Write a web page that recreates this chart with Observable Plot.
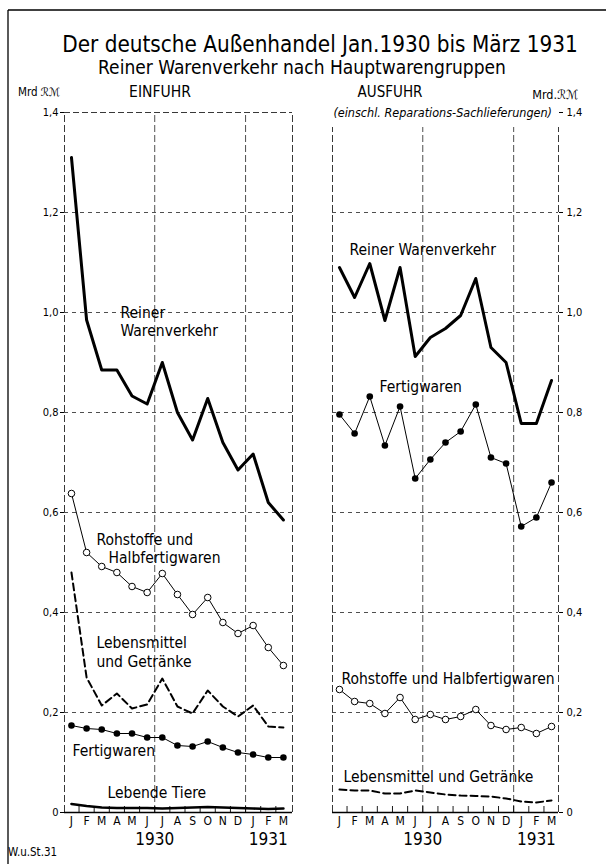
<!DOCTYPE html>
<html><head><meta charset="utf-8">
<script src="https://cdn.jsdelivr.net/npm/d3@7"></script>
<script src="https://cdn.jsdelivr.net/npm/@observablehq/plot@0.6"></script>
<style>
html,body{margin:0;padding:0;background:#fff;}
#wrap{position:relative;width:606px;height:864px;overflow:hidden;background:#fff;}
#wrap > *{position:absolute;}
</style>
</head><body><div id="wrap"></div>
<script>
// ---- data ----
const months = ["J","F","M","A","M","J","J","A","S","O","N","D","J","F","M"];
const monthYears = [1930,1930,1930,1930,1930,1930,1930,1930,1930,1930,1930,1930,1931,1931,1931];
const yTicks = [0, 0.2, 0.4, 0.6, 0.8, 1.0, 1.2, 1.4];

// Einfuhr (imports), Mrd RM
const einReiner = [1.31, 0.985, 0.885, 0.885, 0.833, 0.817, 0.90, 0.80, 0.745, 0.828, 0.74, 0.685, 0.717, 0.62, 0.585];
const einRoh    = [0.638, 0.52, 0.492, 0.48, 0.452, 0.44, 0.478, 0.436, 0.396, 0.43, 0.38, 0.358, 0.374, 0.33, 0.294];
const einLeb    = [0.48, 0.27, 0.214, 0.238, 0.208, 0.216, 0.268, 0.212, 0.198, 0.244, 0.212, 0.192, 0.214, 0.172, 0.17];
const einFert   = [0.174, 0.168, 0.166, 0.158, 0.158, 0.15, 0.15, 0.134, 0.132, 0.142, 0.13, 0.12, 0.116, 0.11, 0.11];
const einTiere  = [0.017, 0.013, 0.01, 0.009, 0.009, 0.009, 0.008, 0.009, 0.01, 0.011, 0.01, 0.009, 0.008, 0.007, 0.008];

// Ausfuhr (exports), Mrd RM
const ausReiner = [1.09, 1.03, 1.098, 0.984, 1.09, 0.912, 0.95, 0.968, 0.994, 1.068, 0.93, 0.90, 0.778, 0.778, 0.864];
const ausFert   = [0.796, 0.758, 0.832, 0.734, 0.812, 0.668, 0.706, 0.74, 0.762, 0.816, 0.71, 0.698, 0.572, 0.59, 0.66];
const ausRoh    = [0.246, 0.222, 0.218, 0.198, 0.23, 0.186, 0.196, 0.186, 0.192, 0.206, 0.174, 0.166, 0.17, 0.158, 0.172];
const ausLeb    = [0.046, 0.044, 0.044, 0.038, 0.038, 0.044, 0.04, 0.036, 0.034, 0.033, 0.032, 0.028, 0.022, 0.02, 0.024];

// line labels: [text, month index, value]
const einLabels = [
  ["Reiner", 3.24, 0.998], ["Warenverkehr", 3.24, 0.962],
  ["Rohstoffe und", 1.65, 0.544], ["Halbfertigwaren", 2.45, 0.508],
  ["Lebensmittel", 1.65, 0.338], ["und Getränke", 1.65, 0.300],
  ["Fertigwaren", 0.07, 0.122],
  ["Lebende Tiere", 2.38, 0.038]
];
const ausLabels = [
  ["Reiner Warenverkehr", 0.66, 1.124],
  ["Fertigwaren", 2.64, 0.85],
  ["Rohstoffe und Halbfertigwaren", 0.13, 0.266],
  ["Lebensmittel und Getränke", 0.26, 0.07]
];

// ---- helpers ----
const FONT = '"DejaVu Sans Condensed","Liberation Sans Narrow","DejaVu Sans",sans-serif';
const ser = arr => arr.map((v, i) => ({i, v}));
const fmt = d => d === 0 ? "0" : d.toFixed(1).replace(".", ",");
const monthIdx = months.map((m, i) => ({i, m}));
const boundaries = d3.range(months.length - 1).map(i => i + 0.5);
const years = d3.groups(monthIdx.map(d => ({...d, y: monthYears[d.i]})), d => d.y)
  .map(([y, g]) => ({y, x: d3.mean(g, d => d.i)}));
const yearStart = monthYears.findIndex(y => y === 1931);
const vGrid = [(yearStart) / 2 - 0.5, yearStart - 0.5];
const grid = "#222";

function panel(o) {
  const marks = [
    Plot.ruleY(yTicks.filter(d => d > 0 && d < 1.4), {y: d => d, stroke: grid, strokeWidth: 0.8, strokeDasharray: "4,4"}),
    Plot.ruleX(vGrid, {x: d => d, y1: 0, y2: o.top, stroke: grid, strokeWidth: 0.8, strokeDasharray: "7,3"}),
    Plot.ruleX(o.xDomain, {x: d => d, y1: 0, y2: o.top, stroke: grid, strokeWidth: 0.9, strokeDasharray: "7,3"}),
    Plot.ruleY([0], {stroke: "#000", strokeWidth: 1.6}),
    Plot.ruleX(boundaries, {x: d => d, y1: 0, y2: 0.012, stroke: "#000", strokeWidth: 0.9}),
    Plot.text(monthIdx, {x: "i", y: 0, text: "m", dy: 9, fontSize: 12, lineAnchor: "middle"}),
    Plot.text(years, {x: "x", y: 0, text: d => String(d.y), dy: 27, fontSize: 17, lineAnchor: "middle"}),
    ...o.marks,
    Plot.text(o.labels, {x: d => d[1], y: d => d[2], text: d => d[0], textAnchor: "start", fontSize: 15.5, lineAnchor: "middle"})
  ];
  if (o.topLine) marks.unshift(Plot.ruleY([1.4], {stroke: grid, strokeWidth: 0.9, strokeDasharray: "6,3"}));
  return Plot.plot({
    width: o.width, height: 864,
    marginLeft: o.ml, marginRight: o.mr, marginTop: 112, marginBottom: 52,
    x: {domain: o.xDomain, axis: null},
    y: {domain: [0, 1.4], ticks: yTicks, tickFormat: fmt, tickSize: 4, tickPadding: o.pad, label: null, axis: o.axis},
    style: {fontFamily: FONT, fontSize: "11px", background: "transparent", overflow: "visible", color: "#000"},
    marks
  });
}

const left = panel({
  width: 300, ml: 64, mr: 8, xDomain: [-0.46, 14.6], axis: "left", pad: 2, top: 1.4, topLine: true,
  labels: einLabels,
  marks: [
    Plot.line(ser(einTiere), {x: "i", y: "v", strokeWidth: 2.6}),
    Plot.line(ser(einFert), {x: "i", y: "v", strokeWidth: 1}),
    Plot.dot(ser(einFert), {x: "i", y: "v", r: 3.3, fill: "#000"}),
    Plot.line(ser(einLeb), {x: "i", y: "v", strokeWidth: 2, strokeDasharray: "7,4"}),
    Plot.line(ser(einRoh), {x: "i", y: "v", strokeWidth: 1}),
    Plot.dot(ser(einRoh), {x: "i", y: "v", r: 3.3, fill: "#fff", stroke: "#000", strokeWidth: 1}),
    Plot.line(ser(einReiner), {x: "i", y: "v", strokeWidth: 3})
  ]
});
left.style.left = "0px"; left.style.top = "0px";

const right = panel({
  width: 306, ml: 32, mr: 48, xDomain: [-0.46, 14.46], axis: "right", pad: 4, top: 1.37, topLine: false,
  labels: ausLabels,
  marks: [
    Plot.line(ser(ausLeb), {x: "i", y: "v", strokeWidth: 2, strokeDasharray: "7,4"}),
    Plot.line(ser(ausRoh), {x: "i", y: "v", strokeWidth: 1}),
    Plot.dot(ser(ausRoh), {x: "i", y: "v", r: 3.3, fill: "#fff", stroke: "#000", strokeWidth: 1}),
    Plot.line(ser(ausFert), {x: "i", y: "v", strokeWidth: 1}),
    Plot.dot(ser(ausFert), {x: "i", y: "v", r: 3.3, fill: "#000"}),
    Plot.line(ser(ausReiner), {x: "i", y: "v", strokeWidth: 3})
  ]
});
right.style.left = "300px"; right.style.top = "0px";

const wrap = document.getElementById("wrap");
wrap.append(left, right);

// headings overlay
const svg = d3.create("svg").attr("width", 606).attr("height", 864)
  .style("left", "0px").style("top", "0px").style("pointer-events", "none")
  .style("font-family", FONT);
svg.append("line").attr("x1", 8).attr("x2", 606).attr("y1", 10).attr("y2", 10).attr("stroke", "#000").attr("stroke-width", 1.3);
svg.append("line").attr("x1", 8).attr("x2", 8).attr("y1", 10).attr("y2", 864).attr("stroke", "#000").attr("stroke-width", 1.3);
const T = (x, y, s, size, anchor = "start", extra = {}) => {
  const t = svg.append("text").attr("x", x).attr("y", y).attr("font-size", size)
    .attr("text-anchor", anchor).attr("dominant-baseline", "middle").text(s);
  for (const k in extra) t.attr(k, extra[k]);
  return t;
};
T(320, 45, "Der deutsche Außenhandel Jan.1930 bis März 1931", 22.3, "middle");
T(302, 68, "Reiner Warenverkehr nach Hauptwarengruppen", 19, "middle");
T(18, 92, "Mrd ℛℳ", 11.5);
T(160, 92, "EINFUHR", 15.5, "middle");
T(390, 92, "AUSFUHR", 15, "middle");
T(578, 95, "Mrd.ℛℳ", 12.5, "end");
T(552, 113, "(einschl. Reparations-Sachlieferungen)", 12.5, "end", {"font-style": "italic"});
T(8, 852, "W.u.St.31", 11.5);
wrap.append(svg.node());
</script>
</body></html>
